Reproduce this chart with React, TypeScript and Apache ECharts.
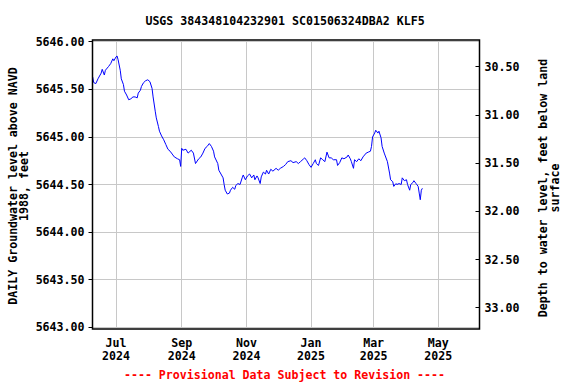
import React, { useEffect, useRef } from 'react';
import * as echarts from 'echarts';

const TITLE = 'USGS 384348104232901 SC01506324DBA2 KLF5';
const LEFT_NAME = 'DAILY Groundwater level above NAVD\n1988, feet';
const RIGHT_NAME = 'Depth to water level, feet below land\nsurface';
const FOOTER = '---- Provisional Data Subject to Revision ----';

const dates = [
  '2024-06-09','2024-06-10','2024-06-12','2024-06-14','2024-06-17','2024-06-18','2024-06-20','2024-06-21',
  '2024-06-24','2024-06-26','2024-06-28','2024-06-29','2024-07-01','2024-07-02','2024-07-03','2024-07-05',
  '2024-07-06','2024-07-08','2024-07-09','2024-07-11','2024-07-13','2024-07-15','2024-07-17','2024-07-19',
  '2024-07-21','2024-07-22','2024-07-24','2024-07-25','2024-07-27','2024-07-29','2024-07-31','2024-08-02',
  '2024-08-04','2024-08-05','2024-08-07','2024-08-08','2024-08-10','2024-08-11','2024-08-13','2024-08-15',
  '2024-08-17','2024-08-19','2024-08-21','2024-08-23','2024-08-25','2024-08-28','2024-08-30','2024-08-31',
  '2024-09-01','2024-09-02','2024-09-05','2024-09-07','2024-09-10','2024-09-12','2024-09-14','2024-09-17',
  '2024-09-19','2024-09-21','2024-09-23','2024-09-25','2024-09-27','2024-09-29','2024-10-01','2024-10-02',
  '2024-10-05','2024-10-06','2024-10-08','2024-10-10','2024-10-11','2024-10-12','2024-10-14','2024-10-16',
  '2024-10-17','2024-10-19','2024-10-21','2024-10-22','2024-10-24','2024-10-26','2024-10-28','2024-10-29',
  '2024-10-31','2024-11-02','2024-11-04','2024-11-06','2024-11-08','2024-11-09','2024-11-11','2024-11-12',
  '2024-11-14','2024-11-15','2024-11-17','2024-11-19','2024-11-20','2024-11-22','2024-11-24','2024-11-26',
  '2024-11-29','2024-12-01','2024-12-03','2024-12-06','2024-12-08','2024-12-10','2024-12-13','2024-12-15',
  '2024-12-18','2024-12-20','2024-12-22','2024-12-25','2024-12-26','2024-12-28','2024-12-30','2025-01-01',
  '2025-01-03','2025-01-05','2025-01-06','2025-01-08','2025-01-10','2025-01-12','2025-01-14','2025-01-16',
  '2025-01-18','2025-01-20','2025-01-22','2025-01-25','2025-01-26','2025-01-28','2025-01-30','2025-02-01',
  '2025-02-04','2025-02-05','2025-02-07','2025-02-08','2025-02-10','2025-02-11','2025-02-13','2025-02-15',
  '2025-02-17','2025-02-19','2025-02-22','2025-02-24','2025-02-26','2025-02-27','2025-02-28','2025-03-02',
  '2025-03-03','2025-03-05','2025-03-06','2025-03-08','2025-03-09','2025-03-11','2025-03-12','2025-03-14',
  '2025-03-16','2025-03-17','2025-03-19','2025-03-20','2025-03-22','2025-03-23','2025-03-25','2025-03-27',
  '2025-03-28','2025-03-30','2025-04-01','2025-04-02','2025-04-04','2025-04-05','2025-04-07','2025-04-08',
  '2025-04-10','2025-04-12','2025-04-13','2025-04-14','2025-04-15','2025-04-16',
];

const levels = [
  5645.63, 5645.57, 5645.56, 5645.61, 5645.67, 5645.71, 5645.65, 5645.70,
  5645.74, 5645.77, 5645.82, 5645.80, 5645.84, 5645.85, 5645.81, 5645.70,
  5645.61, 5645.55, 5645.48, 5645.44, 5645.39, 5645.40, 5645.42, 5645.42,
  5645.41, 5645.46, 5645.49, 5645.53, 5645.57, 5645.59, 5645.60, 5645.58,
  5645.51, 5645.42, 5645.27, 5645.20, 5645.11, 5645.06, 5645.01, 5644.97,
  5644.92, 5644.87, 5644.85, 5644.82, 5644.79, 5644.77, 5644.76, 5644.69,
  5644.88, 5644.86, 5644.87, 5644.83, 5644.86, 5644.83, 5644.72, 5644.77,
  5644.79, 5644.83, 5644.88, 5644.90, 5644.93, 5644.90, 5644.85, 5644.79,
  5644.72, 5644.65, 5644.61, 5644.57, 5644.50, 5644.44, 5644.40, 5644.41,
  5644.44, 5644.47, 5644.45, 5644.49, 5644.51, 5644.50, 5644.57, 5644.60,
  5644.55, 5644.59, 5644.61, 5644.57, 5644.60, 5644.55, 5644.59, 5644.57,
  5644.51, 5644.58, 5644.63, 5644.61, 5644.65, 5644.61, 5644.66, 5644.64,
  5644.67, 5644.65, 5644.67, 5644.69, 5644.71, 5644.74, 5644.75, 5644.73,
  5644.74, 5644.72, 5644.74, 5644.77, 5644.78, 5644.75, 5644.71, 5644.68,
  5644.72, 5644.76, 5644.72, 5644.70, 5644.78, 5644.76, 5644.74, 5644.84,
  5644.78, 5644.78, 5644.76, 5644.76, 5644.70, 5644.73, 5644.78, 5644.77,
  5644.79, 5644.81, 5644.77, 5644.74, 5644.67, 5644.76, 5644.74, 5644.77,
  5644.75, 5644.79, 5644.83, 5644.84, 5644.85, 5644.90, 5645.00, 5645.04,
  5645.07, 5645.04, 5645.06, 5644.99, 5644.90, 5644.83, 5644.80, 5644.74,
  5644.62, 5644.55, 5644.53, 5644.48, 5644.51, 5644.50, 5644.51, 5644.50,
  5644.57, 5644.54, 5644.55, 5644.50, 5644.44, 5644.50, 5644.52, 5644.54,
  5644.51, 5644.48, 5644.41, 5644.34, 5644.44, 5644.46,
];

const monthTicks = ['2024-07-01', '2024-09-01', '2024-11-01', '2025-01-01', '2025-03-01', '2025-05-01'];
const monthNames = ['Jan', 'Feb', 'Mar', 'Apr', 'May', 'Jun', 'Jul', 'Aug', 'Sep', 'Oct', 'Nov', 'Dec'];
const depthTicks = [30.5, 31.0, 31.5, 32.0, 32.5, 33.0];

const FONT_FAMILY = '"DejaVu Sans Mono", "Liberation Mono", monospace';
const DAY = 86400000;

export default function App() {
  const ref = useRef<HTMLDivElement>(null);

  useEffect(() => {
    if (!ref.current) return;
    const chart = echarts.init(ref.current, undefined, { renderer: 'svg' });

    const jul1 = Date.parse('2024-07-01');
    const pxPerDay = 1.0602;
    const gridLeft = 92.5;
    const gridRight = 479.5;
    const xMin = jul1 - ((116 - gridLeft) / pxPerDay) * DAY;
    const xMax = xMin + ((gridRight - gridLeft) / pxPerDay) * DAY;

    const data = dates.map((d, i) => [Date.parse(d), levels[i]]);
    const tickVals = monthTicks.map((d) => Date.parse(d));

    const textStyleBase = {
      fontFamily: FONT_FAMILY,
      fontWeight: 'bold' as const,
      fontSize: 11.6,
      color: '#000',
    };

    chart.setOption({
      animation: false,
      backgroundColor: '#fff',
      grid: {
        left: gridLeft,
        right: 576 - gridRight,
        top: 41.7,
        bottom: 384 - 327.3,
        containLabel: false,
      },
      xAxis: {
        type: 'value',
        min: xMin,
        max: xMax,
        axisLine: { show: false },
        axisTick: { show: false, customValues: tickVals },
        axisLabel: {
          customValues: tickVals,
          margin: 9,
          ...textStyleBase,
          lineHeight: 13,
          formatter: (v: number) => {
            const d = new Date(v);
            return monthNames[d.getUTCMonth()] + '\n' + d.getUTCFullYear();
          },
        },
        splitLine: { show: true, lineStyle: { color: '#c8c8c8', width: 1 } },
      },
      yAxis: [
        {
          type: 'value',
          min: 5643,
          max: 5646,
          interval: 0.5,
          position: 'left',
          axisLine: { show: false },
          axisTick: { show: true, length: 4, lineStyle: { color: '#000', width: 1 } },
          axisLabel: {
            margin: 8,
            ...textStyleBase,
            formatter: (v: number) => v.toFixed(2),
          },
          splitLine: { show: true, lineStyle: { color: '#c8c8c8', width: 1 } },
        },
        {
          type: 'value',
          min: 30.241,
          max: 33.203,
          inverse: true,
          position: 'right',
          axisLine: { show: false },
          axisTick: {
            show: true,
            inside: true,
            length: 4,
            customValues: depthTicks,
            lineStyle: { color: '#000', width: 1 },
          },
          axisLabel: {
            customValues: depthTicks,
            margin: 5,
            ...textStyleBase,
            formatter: (v: number) => v.toFixed(2),
          },
          splitLine: { show: false },
        },
      ],
      graphic: [
        {
          type: 'rect',
          z: 100,
          shape: { x: 92.5, y: 40, width: 387, height: 289 },
          style: { fill: 'none', stroke: '#000', lineWidth: 1.5 },
          silent: true,
        },
        {
          type: 'text',
          x: 285,
          y: 21,
          style: {
            text: TITLE,
            fill: '#000',
            font: 'bold 11.6px ' + FONT_FAMILY,
            align: 'center',
            verticalAlign: 'middle',
          },
        },
        {
          type: 'text',
          x: 18.5,
          y: 186,
          rotation: Math.PI / 2,
          style: {
            text: LEFT_NAME,
            fill: '#000',
            font: 'bold 11.6px ' + FONT_FAMILY,
            align: 'center',
            verticalAlign: 'middle',
            lineHeight: 11.8,
          },
        },
        {
          type: 'text',
          x: 549,
          y: 188,
          rotation: Math.PI / 2,
          style: {
            text: RIGHT_NAME,
            fill: '#000',
            font: 'bold 11.6px ' + FONT_FAMILY,
            align: 'center',
            verticalAlign: 'middle',
            lineHeight: 12.4,
          },
        },
        {
          type: 'text',
          x: 284.5,
          y: 375,
          style: {
            text: FOOTER,
            fill: '#ff0000',
            font: 'bold 11.6px ' + FONT_FAMILY,
            align: 'center',
            verticalAlign: 'middle',
          },
        },
      ],
      series: [
        {
          type: 'line',
          yAxisIndex: 0,
          data,
          showSymbol: false,
          symbol: 'none',
          lineStyle: { color: '#0000ff', width: 1 },
          silent: true,
        },
      ],
    });

    return () => chart.dispose();
  }, []);

  return (
    <div
      ref={ref}
      style={{ position: 'fixed', left: 0, top: 0, width: 576, height: 384, background: '#fff' }}
    />
  );
}
